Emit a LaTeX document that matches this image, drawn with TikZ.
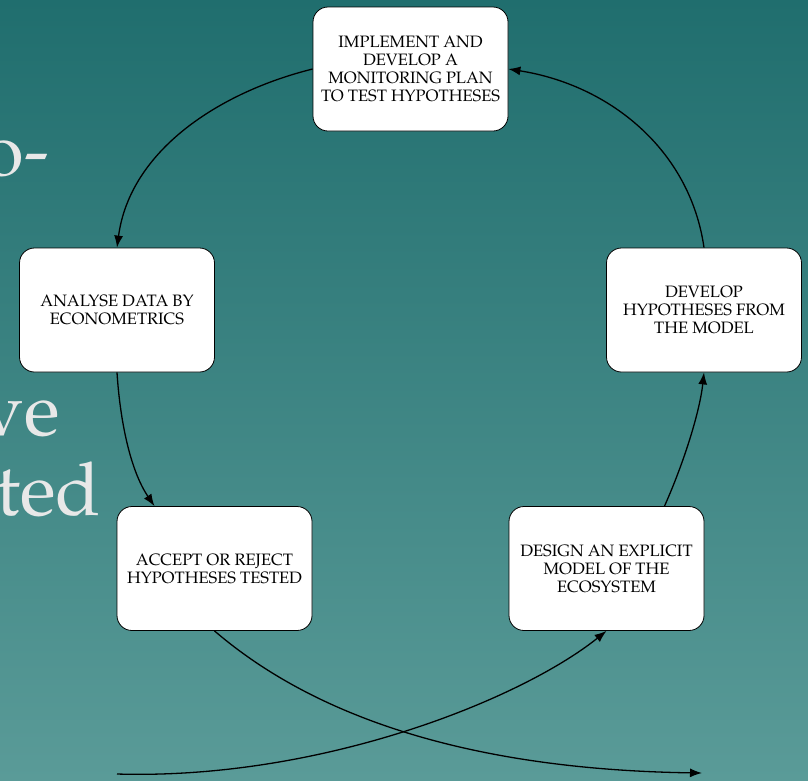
\documentclass[tikz,border=0pt]{standalone}
\usepackage[T1]{fontenc}
\usepackage{mathpazo}
\usetikzlibrary{arrows.meta,calc}
\definecolor{bgtop}{RGB}{32,110,110}
\definecolor{bgbot}{RGB}{90,155,152}
\definecolor{ghost}{RGB}{232,232,232}
\tikzset{
  stepbox/.style={draw=black, line width=0.8pt, fill=white, rounded corners=15pt,
    minimum width=195pt, minimum height=124pt, align=center, inner sep=2pt,
    font=\fontsize{16.5}{18}\selectfont},
  bigtext/.style={text=ghost, anchor=base east, inner sep=0pt, font=\fontsize{74}{80}\selectfont},
  conn/.style={draw=black, line width=1.3pt, -{Latex[length=12pt,width=9pt]}}
}
\begin{document}
\begin{tikzpicture}[x=1pt,y=-1pt]
\useasboundingbox (0,0) rectangle (808,780);
\shade[top color=bgtop, bottom color=bgbot] (0,0) rectangle (808,780);
\begin{scope}
\clip (0,0) rectangle (808,780);
\node[bigtext] (g1) at (49,175) {o-};
\node[bigtext] (g2) at (60,435) {ve};
\node[bigtext] (g3) at (101,515) {ted};
\end{scope}

\node[stepbox] (impl) at (410.5,69) {IMPLEMENT AND\\DEVELOP A\\MONITORING PLAN\\TO TEST HYPOTHESES};
\node[stepbox] (anal) at (117,310) {ANALYSE DATA BY\\ECONOMETRICS};
\node[stepbox] (devl) at (704,310) {DEVELOP\\HYPOTHESES FROM\\THE MODEL};
\node[stepbox] (acc) at (214.5,568.5) {ACCEPT OR REJECT\\HYPOTHESES TESTED};
\node[stepbox] (desn) at (606.5,568.5) {DESIGN AN EXPLICIT\\MODEL OF THE\\ECOSYSTEM};

\coordinate (end3) at (702,773);
\coordinate (start4) at (117,774);

\draw[conn] (impl.west) .. controls (220,92) and (130,150) .. (anal.north);
\draw[conn] (anal.south) .. controls (120,420) and (130,470) .. ([xshift=-60pt]acc.north);
\draw[conn] (acc.south) .. controls (330,730) and (500,770) .. (end3);
\draw[conn] (start4) .. controls (320,780) and (520,700) .. (desn.south);
\draw[conn] ([xshift=58pt]desn.north) .. controls (685,460) and (700,410) .. (devl.south);
\draw[conn] (devl.north) .. controls (690,150) and (610,85) .. (impl.east);
\end{tikzpicture}
\end{document}
